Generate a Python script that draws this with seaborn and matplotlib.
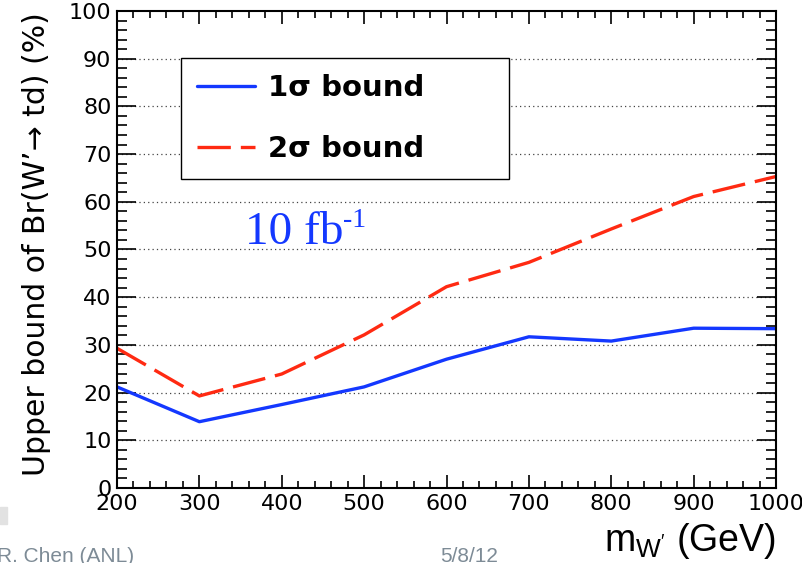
import matplotlib
matplotlib.use("Agg")

import matplotlib.pyplot as plt
import matplotlib.patches as mpatches
from matplotlib.ticker import MultipleLocator
import pandas as pd
import seaborn as sns

# ── Data ──
mass = [200, 300, 400, 500, 600, 700, 800, 900, 1000]
bound_1sigma = [21.2, 13.9, 17.5, 21.2, 27.0, 31.7, 30.8, 33.5, 33.4]
bound_2sigma = [29.3, 19.3, 23.9, 32.1, 42.2, 47.3, 54.3, 61.1, 65.3]
series_labels = ["1σ bound", "2σ bound"]

BLUE = "#1438ff"
RED = "#ff2a12"

df = pd.DataFrame({"mass": mass * 2,
                   "bound": bound_1sigma + bound_2sigma,
                   "series": [series_labels[0]] * len(mass) + [series_labels[1]] * len(mass)})

sns.set_theme(style="ticks")
plt.rcParams["font.family"] = ["Liberation Sans", "DejaVu Sans"]
plt.rcParams["mathtext.default"] = "regular"

fig = plt.figure(figsize=(8.03, 5.63), dpi=100)
ax = fig.add_axes([0.1457, 0.1332, 0.8207, 0.8473])

sns.lineplot(data=df, x="mass", y="bound", hue="series", style="series",
             palette={series_labels[0]: BLUE, series_labels[1]: RED},
             dashes={series_labels[0]: "", series_labels[1]: (10, 3)},
             linewidth=2.4, ax=ax, legend=False)

ax.set_xlim(200, 1000)
ax.set_ylim(0, 100)
ax.set_xlabel("")
ax.set_ylabel("")

# ROOT-style ticks: inward, on all four sides
ax.xaxis.set_major_locator(MultipleLocator(100))
ax.xaxis.set_minor_locator(MultipleLocator(20))
ax.yaxis.set_major_locator(MultipleLocator(10))
ax.yaxis.set_minor_locator(MultipleLocator(2))
ax.tick_params(axis="both", which="both", direction="in", top=True, right=True,
               color="black", width=1.2)
ax.tick_params(axis="x", which="major", length=9.5, labelsize=16, pad=4)
ax.tick_params(axis="x", which="minor", length=5)
ax.tick_params(axis="y", which="major", length=14, labelsize=16, pad=4)
ax.tick_params(axis="y", which="minor", length=7)
for lab in ax.get_xticklabels() + ax.get_yticklabels():
    lab.set_fontfamily("DejaVu Sans")
    lab.set_color("black")

for sp in ax.spines.values():
    sp.set_color("black")
    sp.set_linewidth(1.5)

# dotted horizontal grid
for yv in range(10, 100, 10):
    ax.axhline(yv, color="#444444", linestyle=(0, (1, 2.5)), linewidth=0.9, zorder=0)

# legend
handles = [plt.Line2D([], [], color=BLUE, lw=2.4),
           plt.Line2D([], [], color=RED, lw=2.4, dashes=(10, 3))]
leg = ax.legend(handles, series_labels, loc="upper left",
                bbox_to_anchor=(0.097, 0.652, 0.498, 0.249), mode="expand",
                prop={"family": "DejaVu Sans", "weight": "bold", "size": 21},
                frameon=True, fancybox=False, edgecolor="black", framealpha=1,
                borderpad=0.55, labelspacing=1.12, handlelength=2.0,
                handletextpad=0.45, borderaxespad=0)
leg.get_frame().set_linewidth(1.0)
for t in leg.get_texts():
    t.set_color("black")

lumi = ax.text(0.194, 0.512, "10 fb", transform=ax.transAxes, color=BLUE,
               fontsize=34, family="Liberation Serif", ha="left", va="baseline")
ax.annotate("-1", xy=(1.0, 0.5), xycoords=lumi, color=BLUE, fontsize=20,
            family="Liberation Serif", ha="left", va="bottom")

# axis titles
fig.text(0.046, 0.567, "Upper bound of Br(W’→ td) (%)", rotation=90,
         fontsize=21.5, family="DejaVu Sans", ha="center", va="center",
         color="black")
fig.text(0.966, 0.004, r"m$_{W'}$ (GeV)", fontsize=27, ha="right",
         va="bottom", color="black")

# slide footer remnants
fig.text(-0.004, -0.006, "R. Chen (ANL)", fontsize=15, color="#7d8b96",
         ha="left", va="bottom")
fig.text(0.548, -0.006, "5/8/12", fontsize=15, color="#7d8b96",
         ha="left", va="bottom")
fig.patches.append(mpatches.Rectangle((0, 0.07), 0.009, 0.03, transform=fig.transFigure,
                                      color="#e2e2e2", zorder=-1))

fig.savefig("out.png", dpi=100)
